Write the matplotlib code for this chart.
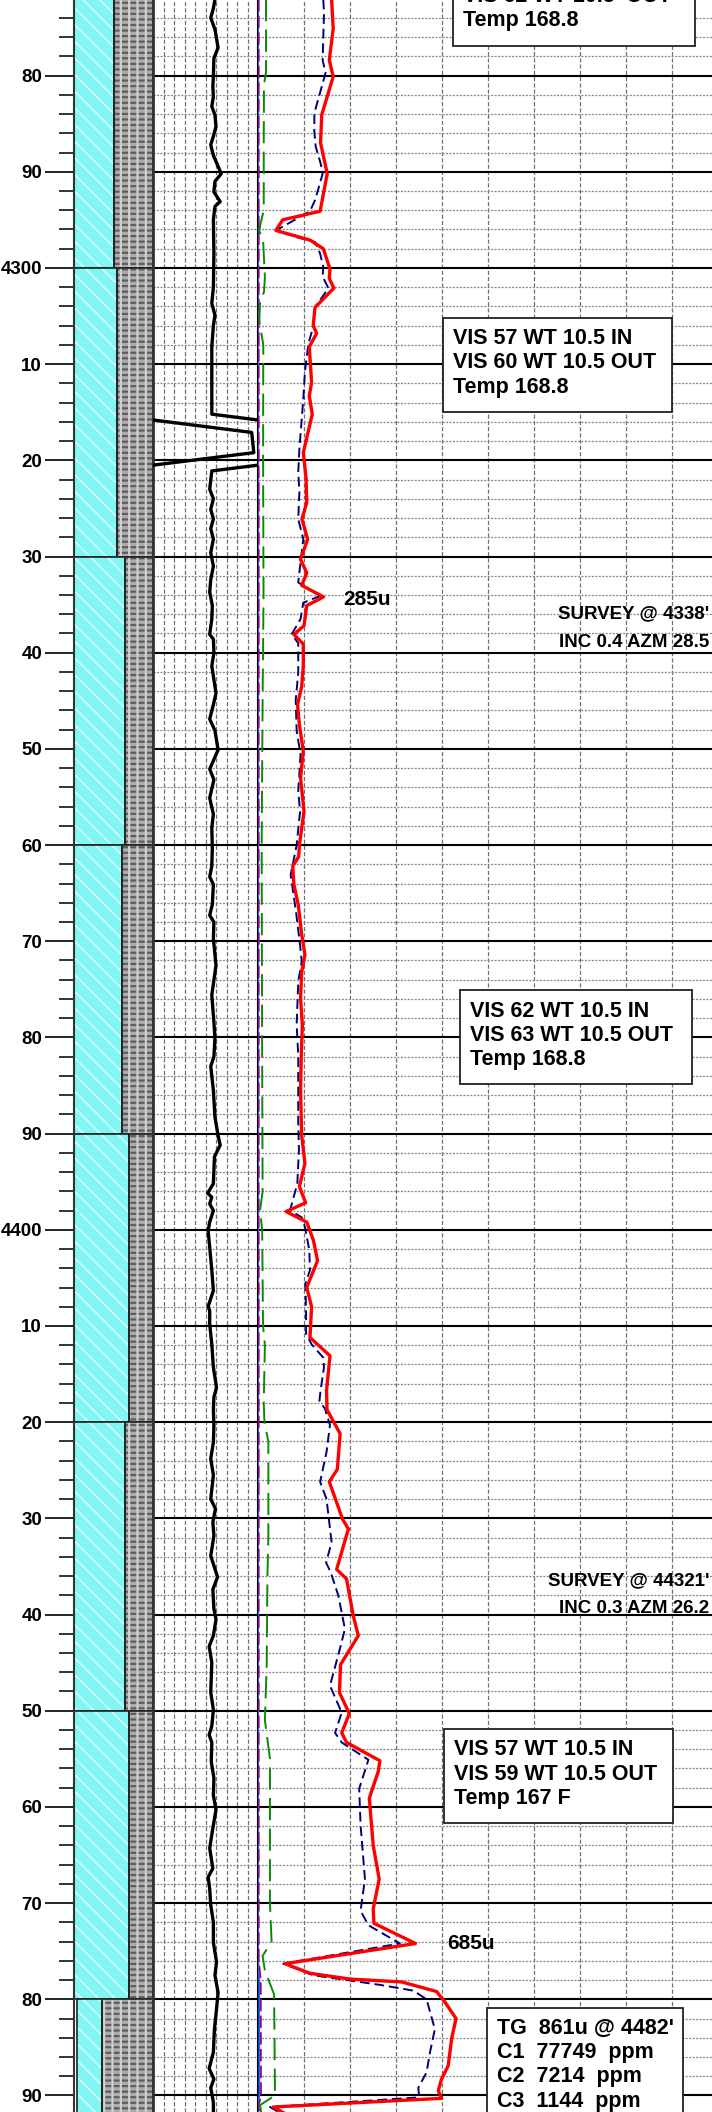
import numpy as np
import matplotlib
matplotlib.use("Agg")
from matplotlib import pyplot as plt
from matplotlib.patches import Rectangle

plt.rcParams['font.family'] = ['Liberation Sans', 'DejaVu Sans']
plt.rcParams['font.weight'] = 'bold'
plt.rcParams['lines.scale_dashes'] = False

# ---- data ----
depth_top, depth_bot = 4272.14, 4491.72

# lithology: interval tops, % limestone (cyan), % blank at left
lith_top = [4272, 4300, 4330, 4360, 4390, 4420, 4450, 4480]
lith_bot = [4300, 4330, 4360, 4390, 4420, 4450, 4480, 4492]
lith_lime = [50, 55, 65, 61, 70, 65, 70, 32]
lith_blank = [0, 0, 0, 0, 0, 0, 0, 4]

# drill rate track (0-100 scale, values >100 wrap)
rop_depth = [4272.1, 4273.0, 4274.0, 4275.2, 4277.1, 4278.2, 4280.1, 4281.1, 4282.2, 4283.2,
             4284.1, 4285.3, 4286.3, 4287.2, 4288.3, 4290.2, 4291.0, 4292.1, 4293.1, 4293.6,
             4295.0, 4298.5, 4302.0, 4303.7, 4304.9, 4306.0, 4308.2, 4309.5, 4315.2, 4317.1,
             4319.2, 4321.1, 4323.0, 4324.0, 4325.1, 4326.1, 4327.1, 4328.2, 4329.6, 4331.0,
             4332.4, 4333.7, 4335.1, 4336.5, 4338.1, 4338.6, 4340.0, 4341.4, 4342.8, 4344.2,
             4345.4, 4346.9, 4348.1, 4350.1, 4352.1, 4353.2, 4355.1, 4356.8, 4358.2, 4360.3,
             4362.2, 4363.3, 4364.1, 4366.2, 4367.3, 4368.0, 4369.7, 4372.5, 4375.6, 4378.4,
             4380.1, 4382.0, 4383.0, 4385.5, 4388.3, 4390.2, 4391.2, 4392.4, 4395.2, 4396.2,
             4396.6, 4397.3, 4398.0, 4399.2, 4400.1, 4401.8, 4404.2, 4406.3, 4408.0, 4408.4,
             4409.8, 4411.9, 4414.3, 4416.4, 4417.4, 4418.7, 4420.3, 4422.1, 4423.8, 4425.5,
             4428.0, 4429.0, 4430.4, 4431.8, 4433.9, 4436.1, 4437.4, 4439.4, 4440.5, 4442.2,
             4443.3, 4445.0, 4448.1, 4449.9, 4451.6, 4452.5, 4453.3, 4455.3, 4457.0, 4458.8,
             4460.3, 4462.2, 4464.3, 4466.4, 4467.3, 4468.5, 4470.2, 4472.0, 4474.1, 4476.1,
             4477.5, 4479.3, 4481.0, 4483.1, 4485.5, 4487.2, 4488.3, 4489.2, 4490.7, 4492.0]
rop_val = [59, 57.5, 55, 59, 62, 58, 57.5, 57, 57.5, 56,
           59, 60, 57.5, 55, 57.5, 65, 59, 58, 64, 59,
           57.5, 58, 57.5, 56, 59, 57.5, 56, 56, 56, 194,
           196, 56, 54, 57.5, 55, 57.5, 55, 57.5, 55, 57.5,
           55, 54, 56.5, 56, 54, 57.5, 58, 56, 58, 60,
           57.5, 54, 59, 62, 54, 58, 54, 57.5, 56, 56.5,
           56, 54, 57.5, 56.5, 54, 58, 57.5, 60, 56, 58,
           59, 58, 55, 57.5, 59, 62, 64, 58.5, 57.5, 52,
           56, 54, 57.5, 54, 52.5, 54, 56, 57.5, 52.5, 54,
           54, 56, 57.5, 60.5, 58, 57.5, 58, 57.5, 55, 57.5,
           55, 59.5, 57, 58, 55, 61.5, 57, 58, 60, 57.5,
           53.5, 56, 55, 57.5, 56, 53.5, 56, 55.5, 58, 57.5,
           60, 57, 54, 57, 52.5, 54, 55, 57.5, 57.5, 60.5,
           59, 62, 60.5, 58.5, 57.5, 53.5, 58, 55, 57.5, 57.5]

# total gas (units)
tg_depth = [4272.1, 4275.1, 4278.4, 4280.1, 4284.1, 4287.0, 4290.2, 4294.1, 4295.0, 4296.1,
            4297.1, 4298.0, 4300.1, 4301.1, 4302.1, 4304.1, 4306.0, 4306.8, 4308.2, 4311.9,
            4313.3, 4315.2, 4319.2, 4321.9, 4324.4, 4326.1, 4328.2, 4330.3, 4331.7, 4333.0,
            4334.2, 4335.1, 4337.2, 4338.1, 4339.1, 4341.4, 4343.5, 4345.4, 4347.5, 4350.2,
            4353.0, 4356.5, 4360.0, 4361.2, 4362.2, 4364.1, 4366.2, 4369.3, 4371.4, 4373.2,
            4375.9, 4378.7, 4382.0, 4385.5, 4390.2, 4393.1, 4395.5, 4397.2, 4398.1, 4399.2,
            4401.1, 4403.2, 4406.0, 4408.0, 4411.2, 4413.1, 4416.7, 4418.7, 4421.2, 4424.9,
            4426.2, 4430.1, 4431.1, 4435.3, 4436.3, 4440.1, 4442.2, 4445.2, 4448.1, 4450.3,
            4452.3, 4453.3, 4455.2, 4456.3, 4459.1, 4464.0, 4467.5, 4470.6, 4472.1, 4474.2,
            4476.3, 4477.3, 4477.9, 4478.2, 4479.2, 4480.3, 4482.0, 4484.1, 4486.9, 4488.3,
            4489.5, 4490.3, 4491.2, 4492.0]
tg_val = [320, 327, 310, 327, 277, 272, 301, 270, 107, 78,
          226, 284, 313, 310, 330, 248, 240, 255, 223, 233,
          223, 236, 197, 209, 212, 191, 216, 185, 212, 190,
          285, 212, 200, 156, 197, 197, 190, 172, 180, 197,
          185, 200, 180, 177, 151, 156, 175, 190, 204, 190,
          185, 193, 188, 185, 190, 204, 180, 207, 122, 212,
          241, 259, 212, 233, 226, 313, 298, 300, 357, 345,
          310, 368, 393, 342, 385, 414, 436, 359, 354, 397,
          364, 385, 530, 523, 484, 501, 527, 501, 504, 685,
          117, 226, 400, 625, 777, 813, 861, 842, 827, 798,
          784, 798, 67, 125]

# methane C1
c1_depth = [4272.1, 4273.5, 4278.4, 4279.7, 4283.9, 4285.8, 4287.4, 4289.1, 4290.2, 4292.9,
            4294.1, 4296.1, 4296.8, 4297.3, 4298.5, 4299.9, 4300.9, 4302.1, 4304.1, 4306.1,
            4307.9, 4310.8, 4313.6, 4318.8, 4321.2, 4323.3, 4326.1, 4328.2, 4331.0, 4332.7,
            4334.1, 4334.8, 4336.5, 4338.1, 4339.0, 4342.1, 4344.9, 4348.1, 4350.6, 4354.4,
            4356.5, 4360.0, 4363.1, 4366.9, 4370.4, 4372.1, 4374.2, 4378.7, 4381.8, 4388.9,
            4391.7, 4395.2, 4398.0, 4398.7, 4399.7, 4402.1, 4404.2, 4405.6, 4408.4, 4410.8,
            4411.9, 4413.3, 4414.3, 4416.7, 4417.8, 4418.6, 4420.3, 4423.1, 4426.2, 4428.0,
            4432.5, 4434.6, 4435.6, 4438.0, 4441.5, 4443.3, 4447.4, 4450.2, 4452.3, 4453.3,
            4455.1, 4458.1, 4461.9, 4467.5, 4470.8, 4472.3, 4474.2, 4476.3, 4477.5, 4478.5,
            4479.1, 4480.0, 4481.3, 4483.1, 4485.5, 4487.6, 4489.2, 4490.2, 4491.2, 4492.0]
c1_val = [284, 287, 281, 294, 245, 245, 251, 272, 281, 249,
          226, 78, 168, 248, 270, 284, 281, 306, 248, 240,
          219, 204, 197, 180, 175, 180, 175, 197, 183, 175,
          270, 197, 185, 146, 175, 175, 164, 168, 185, 175,
          183, 168, 142, 165, 183, 190, 175, 168, 175, 175,
          178, 171, 139, 190, 204, 223, 226, 206, 209, 209,
          233, 284, 287, 272, 267, 291, 313, 298, 270, 298,
          320, 296, 316, 349, 378, 359, 313, 364, 335, 364,
          480, 440, 446, 465, 446, 480, 617, 110, 240, 530,
          675, 733, 748, 769, 748, 733, 697, 701, 52, 110]

# ethane C2
c2_depth = [4272, 4279.6, 4281, 4287, 4294, 4295.5, 4296.2, 4297, 4299, 4301,
            4302.5, 4303.5, 4305.5, 4308, 4320, 4334, 4345, 4360, 4382, 4396,
            4398, 4400, 4410, 4412, 4418, 4420, 4422, 4432, 4436, 4445,
            4451, 4455, 4470, 4474, 4475.5, 4477, 4479.5, 4490, 4491, 4492]
c2_val = [35, 35, 26, 25, 25, 10, 6, 22, 26, 30,
          26, 9, 6, 23, 22, 24, 20, 16, 18, 20,
          9, 18, 22, 30, 25, 28, 45, 45, 41, 38,
          30, 52, 52, 59, 20, 30, 70, 74, 9, 15]

# propane C3 and butane C4
c3_depth = [4272, 4476, 4478, 4490, 4491, 4492]
c3_val = [3, 3, 12, 13, 3, 5]
c4_depth = [4272, 4476, 4478, 4490, 4491, 4492]
c4_val = [1, 1, 5, 6, 1, 2]

# remarks boxes: (left, right, top depth, lines)
box_left = [848, 804, 878, 809, 996]
box_right = [1900, 1800, 1887, 1804, 1848]
box_top = [4267.1, 4305.2, 4375.1, 4451.9, 4480.9]
box_lines = [["VIS 62 WT 10.5 IN", "VIS 62 WT 10.5' OUT", "Temp 168.8"],
             ["VIS 57 WT 10.5 IN", "VIS 60 WT 10.5 OUT", "Temp 168.8"],
             ["VIS 62 WT 10.5 IN", "VIS 63 WT 10.5 OUT", "Temp 168.8"],
             ["VIS 57 WT 10.5 IN", "VIS 59 WT 10.5 OUT", "Temp 167 F"],
             ["TG  861u @ 4482'", "C1  77749  ppm", "C2  7214  ppm", "C3  1144  ppm"]]
survey_depth = [4336.0, 4436.5]
survey_line1 = ["SURVEY @ 4338'", "SURVEY @ 44321'"]
survey_line2 = ["INC 0.4 AZM 28.5", "INC 0.3 AZM 26.2"]
peak_depth = [4334.5, 4474.2]
peak_x = [372, 822]
peak_text = ["285u", "685u"]

# ---- figure ----
W, H = 712, 2112
fig = plt.figure(figsize=(W / 100, H / 100), dpi=100)


def track(x0, x1):
    ax = fig.add_axes([x0 / W, 0, (x1 - x0) / W, 1])
    ax.set_ylim(depth_bot, depth_top)
    for s in ['top', 'bottom', 'right']:
        ax.spines[s].set_visible(False)
    ax.set_xticks([])
    return ax


ax_lith = track(74, 153)
ax_rop = track(153, 258)
ax_gas = track(258, 712)
ax_lith.set_xlim(0, 100)
ax_rop.set_xlim(0, 100)
ax_gas.set_xlim(0, 1974)

major = np.arange(4280, 4492, 10)
minor = np.array([d for d in np.arange(4274, 4492, 2) if d % 10 != 0])

# depth scale
ax_lith.set_yticks(major)
ax_lith.set_yticklabels([str(d) if d % 100 == 0 else str(d % 100) for d in major],
                        fontsize=13.5, fontweight='bold')
ax_lith.set_yticks(minor, minor=True)
ax_lith.tick_params(axis='y', which='major', length=21, width=1.4, pad=2, color='#222222')
ax_lith.tick_params(axis='y', which='minor', length=10.5, width=1.4, color='#333333')
ax_lith.spines['left'].set_linewidth(1.5)
ax_lith.spines['left'].set_color('#333333')

# lithology column
for t, b, lime, blank in zip(lith_top, lith_bot, lith_lime, lith_blank):
    plt.rcParams['hatch.linewidth'] = 1.1
    ax_lith.add_patch(Rectangle((blank, t), lime, b - t, facecolor='#82f5f5',
                                edgecolor='#d8ffff', hatch='\\\\', lw=0))
    plt.rcParams['hatch.linewidth'] = 1.6
    ax_lith.add_patch(Rectangle((blank + lime, t), 100 - blank - lime, b - t,
                                facecolor='#acacac', edgecolor='#5e5e5e',
                                hatch='---', lw=0))
    ax_lith.add_patch(Rectangle((blank + lime, t), 100 - blank - lime, b - t,
                                fill=False, edgecolor='#d0d0d0', hatch='||', lw=0))
    ax_lith.add_patch(Rectangle((blank, t), lime, b - t, fill=False,
                                edgecolor='#222222', lw=1.2))
    ax_lith.add_patch(Rectangle((blank + lime, t), 100 - blank - lime, b - t, fill=False,
                                edgecolor='#222222', lw=1.2))
ax_lith.spines['right'].set_visible(True)
ax_lith.spines['right'].set_linewidth(2)
ax_lith.spines['right'].set_color('#333333')

# grids for the curve tracks
for ax, xmax, step in [(ax_rop, 100, 10), (ax_gas, 1974, 200)]:
    ax.set_yticks([])
    for x in np.arange(step, xmax, step):
        ax.axvline(x, color='#707070', lw=0.9, ls=(0, (3, 1.5)), zorder=1)
    for d in minor:
        ax.axhline(d, color='#8a8a8a', lw=0.9, ls=(0, (1.5, 1)), zorder=1)
    for d in major:
        ax.axhline(d, color='black', lw=1.5, zorder=2)

ax_rop.spines['left'].set_linewidth(2)
ax_rop.spines['left'].set_color('#333333')
ax_gas.spines['left'].set_linewidth(1.5)
ax_gas.spines['left'].set_color('black')

# drill rate with wrap-around
rop_val = np.array(rop_val)
ax_rop.plot(rop_val, rop_depth, color='black', lw=2.4, zorder=4)
ax_rop.plot(rop_val - 100, rop_depth, color='black', lw=2.4, zorder=4)

# gas curves
ax_gas.plot(c4_val, c4_depth, color='#1e6cff', lw=1.2, zorder=3)
ax_gas.plot(c3_val, c3_depth, color='#8b0a8b', lw=1.3, ls=(0, (9, 3)), zorder=3)
ax_gas.plot(c2_val, c2_depth, color='#0a8a0a', lw=1.4, ls=(0, (16, 6)), zorder=3)
ax_gas.plot(c1_val, c1_depth, color='#00007a', lw=1.4, ls=(0, (7, 3.5)), zorder=3)
ax_gas.plot(tg_val, tg_depth, color='#ff0000', lw=2.4, zorder=4)

# remarks
line_gap = 2.5
for l, r, t, lines in zip(box_left, box_right, box_top, box_lines):
    h = 2.18 + line_gap * (len(lines) - 1) + 2.6
    ax_gas.add_patch(Rectangle((l, t), r - l, h, facecolor='white', edgecolor='#222222',
                               lw=1.3, zorder=5))
    for i, s in enumerate(lines):
        ax_gas.text(l + 45, t + 2.18 + i * line_gap, s, fontsize=15.5, fontweight='bold',
                    va='center', ha='left', zorder=6)

for d, s1, s2 in zip(survey_depth, survey_line1, survey_line2):
    ax_gas.text(1962, d, s1, fontsize=13.5, fontweight='bold', ha='right', va='center', zorder=6)
    ax_gas.text(1962, d + 2.9, s2, fontsize=13.5, fontweight='bold', ha='right', va='center',
                zorder=6)

for d, x, s in zip(peak_depth, peak_x, peak_text):
    ax_gas.text(x, d, s, fontsize=15, fontweight='bold', ha='left', va='center', zorder=6)

fig.savefig('out.png', dpi=100)
